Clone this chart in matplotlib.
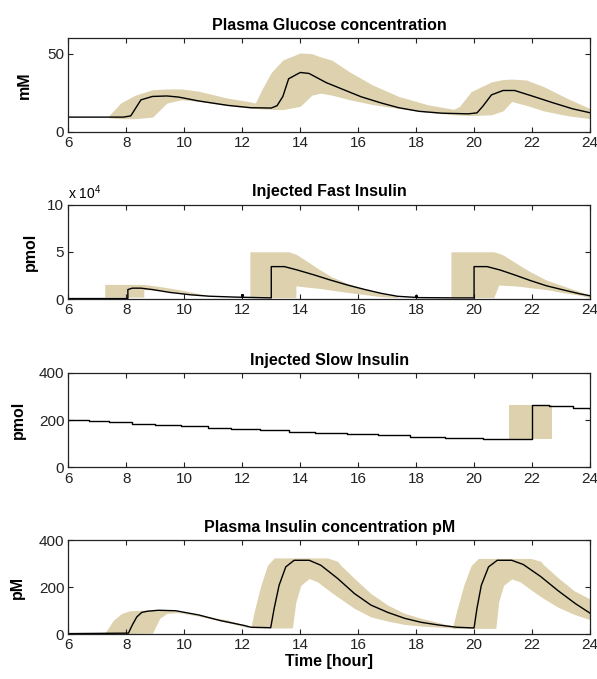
import matplotlib
matplotlib.use("Agg")
import matplotlib.pyplot as plt
from matplotlib.ticker import FuncFormatter

# ------------------------------------------------
# datos (horas 6..24)

# glucosa en plasma (mM)
gluc_t = [6, 7.9, 8.15, 8.5, 8.9, 9.4, 9.8, 10.5, 11.5, 12.3, 13.0, 13.2, 13.4, 13.6, 14.0, 14.3,
          14.9, 15.5, 16.1, 16.8, 17.4, 18.1, 18.9, 19.8, 20.1, 20.3, 20.6, 21.0, 21.4, 22.0, 22.7, 23.4, 24]
gluc_mean = [9.5, 9.5, 10.3, 20.5, 22.7, 23, 22.3, 19.8, 17, 15.5, 15.3, 16.8, 22.7, 34, 38, 37.4,
             31.5, 27, 22.5, 18.5, 15.5, 13.2, 12, 11.6, 12.2, 16.4, 23.7, 26.5, 26.5, 23, 18.8, 14.8, 12.3]
gluc_band_t = [7.4, 7.8, 8.3, 8.9, 9.4, 9.9, 10.5, 11.5, 12.2, 12.45, 12.7, 13.0, 13.4, 14.0, 14.4, 14.7,
               15.1, 15.7, 16.5, 17.4, 18.4, 19.3, 19.5, 19.9, 20.6, 21.0, 21.3, 21.8, 22.4, 23.2, 24]
gluc_hi = [10.5, 18.5, 23.5, 27, 27.5, 27.5, 26, 21.6, 19.5, 18.5, 28, 38, 46, 50.5, 50, 48,
           45.8, 38.4, 30, 22.7, 17.4, 14.5, 16.4, 25.8, 32, 33.5, 33.8, 33.2, 29, 21.6, 15]
gluc_lo = [9, 8.5, 8.5, 9.5, 18.5, 20.6, 19.5, 16.8, 15.3, 15, 14.7, 14.5, 14.3, 16.4, 23.5, 24.8,
           23.5, 20.6, 17.5, 15, 12.5, 11, 10.8, 10.5, 11, 13.5, 19.5, 17, 13.5, 10.5, 8.5]

# insulina rapida inyectada (pmol)
fast_t = [6, 8.05, 8.05, 8.2, 8.5, 8.9, 9.5, 10.2, 10.85, 11.8, 13.0, 13.0, 13.45, 13.9, 14.48, 15.05,
          15.63, 16.2, 16.8, 17.36, 18.1, 19.4, 20.0, 20.0, 20.45, 20.9, 21.4, 21.95, 22.5, 23.1, 23.65, 24]
fast_mean = [500, 500, 10000, 11500, 11500, 10000, 7000, 4500, 3000, 2000, 1200, 34300, 34300, 30700,
             25500, 20000, 14800, 10300, 6000, 2900, 1500, 1200, 1200, 34300, 34300, 30700, 25500,
             19500, 14000, 9500, 5500, 3500]
fast_band1_t = [7.25, 8.6, 8.6, 9.1, 9.7, 10.3, 10.8]
fast_band1_hi = [15500, 15500, 15500, 13500, 10500, 7000, 4000]
fast_band1_lo = [2000, 2000, 10000, 9500, 6800, 4500, 3500]
fast_band2_t = [12.26, 13.6, 13.85, 13.85, 14.25, 14.6, 15.05, 15.63, 16.2, 16.8, 17.36]
fast_band2_hi = [50000, 50000, 47500, 47500, 39600, 32500, 24000, 16500, 11000, 6000, 3000]
fast_band2_lo = [1500, 1500, 1500, 14000, 12500, 11500, 9500, 7000, 4800, 2500, 1500]
fast_band3_t = [19.2, 20.65, 20.68, 20.85, 21.0, 21.46, 21.93, 22.5, 23.08, 23.66, 24]
fast_band3_hi = [50000, 50000, 50000, 48500, 46600, 37800, 29000, 20000, 13800, 7800, 4000]
fast_band3_lo = [1500, 1500, 1500, 14800, 14500, 13800, 12000, 10000, 6700, 4000, 1500]
fast_dots_t = [12.0, 18.0]
fast_dots_v = [4200, 3500]

# insulina lenta inyectada (pmol)
slow_t = [6, 6.7, 7.4, 8.2, 9.0, 9.9, 10.8, 11.6, 12.6, 13.6, 14.5, 15.6, 16.7, 17.8, 19.0, 20.3,
          22.0, 22.6, 23.4, 24]
slow_v = [203, 197, 192, 186, 180, 174, 168, 162, 157, 152, 146, 141, 136, 130, 125, 120,
          266, 260, 253, 248]
slow_band_t = [21.2, 22.7]
slow_band_hi = [265, 265]
slow_band_lo = [120, 120]

# insulina en plasma (pM)
ins_t = [6, 8.07, 8.2, 8.36, 8.53, 8.73, 9.1, 9.7, 10.5, 11.25, 12.05, 12.3, 12.98, 13.1, 13.27, 13.5,
         13.79, 14.31, 14.71, 15.29, 15.87, 16.44, 17.02, 17.6, 18.17, 18.75, 19.4, 20.0, 20.1, 20.25,
         20.5, 20.8, 21.3, 21.7, 22.3, 22.9, 23.5, 24]
ins_v = [3, 5, 39, 74, 93, 98, 102, 100, 82, 58, 38, 30, 28, 110, 208, 286,
         314, 314, 293, 237, 173, 124, 93, 68, 51, 40, 30, 27, 110, 208,
         286, 314, 314, 296, 245, 185, 130, 90]
ins_band1_t = [7.26, 7.55, 7.84, 8.12, 8.9, 9.15, 9.4, 9.8, 10.45, 11.5, 12.2]
ins_band1_hi = [6, 60, 89, 100, 104, 104, 103, 96, 82, 61, 33]
ins_band1_lo = [3, 3, 3, 3, 5, 68, 89, 92, 78, 50, 28]
ins_band2_t = [12.3, 12.41, 12.64, 12.87, 13.1, 13.73, 13.85, 14.02, 14.31, 14.6, 14.94, 15.29, 15.4,
               15.87, 16.44, 17.02, 17.6, 18.17, 18.6, 19.1, 19.35]
ins_band2_hi = [30, 96, 208, 293, 324, 324, 324, 324, 324, 324, 324, 310, 293,
                237, 173, 124, 89, 68, 55, 40, 33]
ins_band2_lo = [28, 27, 27, 27, 27, 27, 138, 208, 237, 222, 190, 159, 150,
                110, 74, 56, 42, 35, 32, 28, 27]
ins_band3_t = [19.25, 19.4, 19.65, 19.9, 20.15, 20.75, 20.85, 21.02, 21.3, 21.6, 21.95, 22.3, 22.4,
               22.9, 23.45, 24]
ins_band3_hi = [25, 100, 210, 292, 322, 322, 322, 322, 322, 322, 322, 310, 295, 240, 185, 150]
ins_band3_lo = [25, 25, 25, 25, 25, 25, 138, 208, 235, 222, 190, 160, 152, 115, 85, 62]

hour_ticks = list(range(6, 25, 2))

# ------------------------------------------------
# estilo tipo matlab

plt.rcParams['font.family'] = ['Liberation Sans', 'DejaVu Sans']
plt.rcParams['mathtext.fontset'] = 'custom'
plt.rcParams['mathtext.rm'] = 'Liberation Sans'
band_color = '#DDD1AE'

fig = plt.figure(figsize=(5.97, 6.79), dpi=100)

left, width = 0.1147, 0.8735
axes_pos = [(left, 0.8056, width, 0.1384),
            (left, 0.5596, width, 0.1392),
            (left, 0.3115, width, 0.1392),
            (left, 0.0658, width, 0.1389)]
titles = ['Plasma Glucose concentration', 'Injected Fast Insulin',
          'Injected Slow Insulin', 'Plasma Insulin concentration pM']
ylabels = ['mM', 'pmol', 'pmol', 'pM']
ylabel_x = [-0.07, -0.058, -0.082, -0.083]
ylims = [(0, 60), (0, 100000), (0, 400), (0, 400)]
yticks = [[0, 50], [0, 50000, 100000], [0, 200, 400], [0, 200, 400]]

axs = []
for i in range(4):
    ax = fig.add_axes(axes_pos[i])
    ax.set_xlim(6, 24)
    ax.set_ylim(*ylims[i])
    ax.set_xticks(hour_ticks)
    ax.set_yticks(yticks[i])
    ax.tick_params(direction='in', top=True, right=True, length=3.5, width=0.8,
                   labelsize=11, pad=3, colors='#222222')
    for s in ax.spines.values():
        s.set_linewidth(0.9)
        s.set_color('#222222')
    ax.set_title(titles[i], fontsize=11.5, fontweight='bold', pad=6)
    ax.set_ylabel(ylabels[i], fontsize=11.5, fontweight='bold')
    ax.yaxis.set_label_coords(ylabel_x[i], 0.5)
    axs.append(ax)

# glucosa
ax = axs[0]
ax.fill_between(gluc_band_t, gluc_lo, gluc_hi, color=band_color, lw=0)
ax.plot(gluc_t, gluc_mean, color='black', lw=1.0)

# insulina rapida
ax = axs[1]
ax.fill_between(fast_band1_t, fast_band1_lo, fast_band1_hi, color=band_color, lw=0)
ax.fill_between(fast_band2_t, fast_band2_lo, fast_band2_hi, color=band_color, lw=0)
ax.fill_between(fast_band3_t, fast_band3_lo, fast_band3_hi, color=band_color, lw=0)
ax.plot(fast_t, fast_mean, color='black', lw=1.0)
ax.plot(fast_dots_t, fast_dots_v, ls='none', marker='s', ms=1.2, color='black')
ax.yaxis.set_major_formatter(FuncFormatter(lambda v, p: '%g' % (v / 1e4)))
ax.text(0.0, 1.03, r'x 10$^{4}$', transform=ax.transAxes, ha='left', va='bottom', fontsize=10)

# insulina lenta
ax = axs[2]
ax.fill_between(slow_band_t, slow_band_lo, slow_band_hi, color=band_color, lw=0)
ax.plot(slow_t, slow_v, color='black', lw=1.0, drawstyle='steps-post')

# insulina en plasma
ax = axs[3]
ax.fill_between(ins_band1_t, ins_band1_lo, ins_band1_hi, color=band_color, lw=0)
ax.fill_between(ins_band2_t, ins_band2_lo, ins_band2_hi, color=band_color, lw=0)
ax.fill_between(ins_band3_t, ins_band3_lo, ins_band3_hi, color=band_color, lw=0)
ax.plot(ins_t, ins_v, color='black', lw=1.0)
ax.set_xlabel('Time [hour]', fontsize=11.5, fontweight='bold', labelpad=1)

fig.savefig('out.png', dpi=100)
